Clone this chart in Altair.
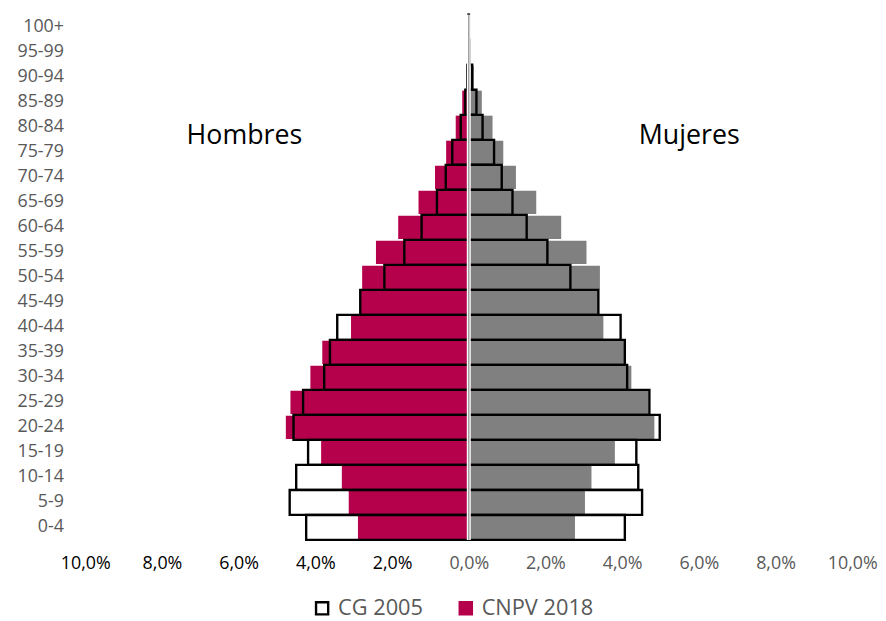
import altair as alt
import pandas as pd

ages = ["0-4", "5-9", "10-14", "15-19", "20-24", "25-29", "30-34", "35-39",
        "40-44", "45-49", "50-54", "55-59", "60-64", "65-69", "70-74", "75-79",
        "80-84", "85-89", "90-94", "95-99", "100+"]

cg2005_hombres = [4.24, 4.67, 4.50, 4.19, 4.57, 4.32, 3.77, 3.62, 3.43, 2.83, 2.20,
                  1.68, 1.23, 0.83, 0.60, 0.43, 0.21, 0.09, 0.04, 0.01, 0.005]
cg2005_mujeres = [4.07, 4.52, 4.42, 4.37, 4.98, 4.71, 4.13, 4.07, 3.96, 3.38, 2.65,
                  2.05, 1.51, 1.14, 0.86, 0.66, 0.36, 0.20, 0.09, 0.02, 0.005]
cnpv2018_hombres = [2.89, 3.13, 3.31, 3.85, 4.77, 4.65, 4.13, 3.82, 3.07, 2.82, 2.78,
                    2.42, 1.84, 1.31, 0.88, 0.59, 0.34, 0.17, 0.05, 0.01, 0.003]
cnpv2018_mujeres = [2.77, 3.03, 3.20, 3.81, 4.84, 4.68, 4.24, 4.05, 3.51, 3.37, 3.42,
                    3.07, 2.41, 1.76, 1.23, 0.90, 0.62, 0.34, 0.13, 0.03, 0.006]

series = ["CG 2005", "CNPV 2018"]
sexos = ["Hombres", "Mujeres"]
RED = "#B5004B"
GRAY = "#808080"
FONT = "Open Sans"

rows = []
for i, a in enumerate(ages):
    rows.append({"age": a, "sexo": "Hombres", "serie": "CG 2005", "val": -cg2005_hombres[i]})
    rows.append({"age": a, "sexo": "Mujeres", "serie": "CG 2005", "val": cg2005_mujeres[i]})
    rows.append({"age": a, "sexo": "Hombres", "serie": "CNPV 2018", "val": -cnpv2018_hombres[i]})
    rows.append({"age": a, "sexo": "Mujeres", "serie": "CNPV 2018", "val": cnpv2018_mujeres[i]})
df = pd.DataFrame(rows)
one = pd.DataFrame({"k": [0]})

order = ages[::-1]

x_enc = alt.X(
    "val:Q",
    stack=None,
    scale=alt.Scale(domain=[-10, 10], nice=False),
    axis=alt.Axis(
        values=list(range(-10, 11, 2)),
        labelExpr="replace(format(abs(datum.value)/100, '.1%'), '.', ',')",
        labelColor={"condition": {"test": "datum.value < 0", "value": "#000000"}, "value": "#595959"},
        labelFontSize=18, labelFont=FONT, labelPadding=15, labelFlush=False,
        domain=False, ticks=False, grid=False, title=None,
    ),
)
y_enc = alt.Y(
    "age:N",
    sort=order,
    scale=alt.Scale(paddingInner=0, paddingOuter=0),
    axis=alt.Axis(
        labelColor="#595959", labelFontSize=18, labelFont=FONT, labelPadding=22,
        domain=False, ticks=False, grid=False, title=None,
    ),
)

base = alt.Chart(df)

cnpv_h = base.transform_filter(
    "datum.serie == 'CNPV 2018' && datum.sexo == 'Hombres'"
).mark_bar(size=23.5, color=RED).encode(x=x_enc, y=y_enc)

cnpv_m = base.transform_filter(
    "datum.serie == 'CNPV 2018' && datum.sexo == 'Mujeres'"
).mark_bar(size=23.5, color=GRAY).encode(x="val:Q", y=alt.Y("age:N", sort=order))

cg = base.transform_filter("datum.serie == 'CG 2005'").mark_bar(
    size=25.2, strokeWidth=2.4
).encode(
    x="val:Q",
    y=alt.Y("age:N", sort=order),
    fill=alt.Fill("serie:N", scale=alt.Scale(domain=series, range=["transparent", RED]),
                  legend=alt.Legend(title=None)),
    stroke=alt.Stroke("serie:N", scale=alt.Scale(domain=series, range=["#000000", RED]),
                      legend=alt.Legend(title=None)),
)

rule_bg = alt.Chart(one).mark_rule(color="white", strokeWidth=4).encode(x=alt.datum(0))
rule = alt.Chart(one).mark_rule(color="#A0A0A0", strokeWidth=1.5).encode(x=alt.datum(0))

txt_h = alt.Chart(one).mark_text(
    text=sexos[0], fontSize=27, font=FONT, color="#000000", dy=9
).encode(x=alt.datum(-5.85), y=alt.datum("80-84"))
txt_m = alt.Chart(one).mark_text(
    text=sexos[1], fontSize=27, font=FONT, color="#000000", dy=9
).encode(x=alt.datum(5.75), y=alt.datum("80-84"))

chart = alt.layer(cnpv_h, cnpv_m, cg, rule_bg, rule, txt_h, txt_m).properties(
    width=774, height=530,
    padding={"left": 9, "top": 2, "right": 0, "bottom": 2},
).configure_view(stroke=None).configure_legend(
    orient="none", legendX=228, legendY=588, direction="horizontal",
    labelFontSize=22, labelFont=FONT, labelColor="#595959",
    symbolType="square", symbolSize=150, symbolStrokeWidth=2.4,
    columnPadding=32, labelOffset=5,
)

chart.save("out.html", embed_options={"renderer": "svg", "actions": False})
